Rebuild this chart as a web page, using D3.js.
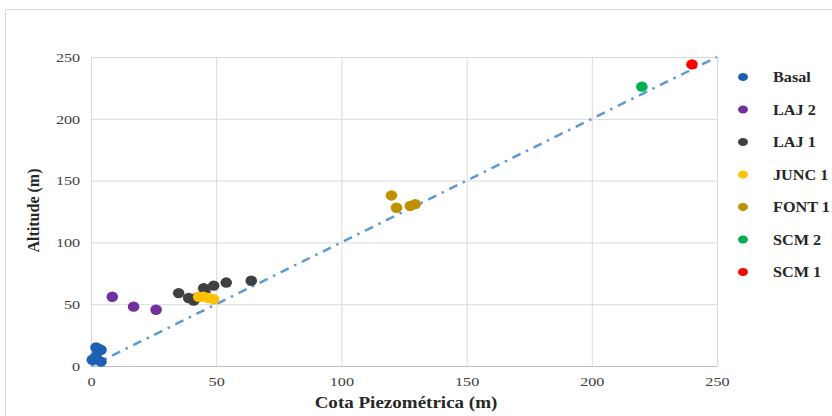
<!DOCTYPE html>
<html>
<head>
<meta charset="utf-8">
<script src="https://cdn.jsdelivr.net/npm/d3@7"></script>
<style>
    body { margin: 0; background: #fff; }
    .tick text { font-family: "Liberation Serif", "DejaVu Serif", serif; font-size: 13.5px; fill: #404040; }
    .axisTitle { font-family: "Liberation Serif", serif; font-weight: bold; fill: #262626; }
    .legendText { font-family: "Liberation Serif", serif; font-weight: bold; font-size: 15px; fill: #262626; }
</style>
</head>
<body>
<script>
//series names, colours and points
var seriesNames = ["Basal", "LAJ 2", "LAJ 1", "JUNC 1", "FONT 1", "SCM 2", "SCM 1"];
var seriesColors = ["#1e5fb4", "#7030a0", "#404040", "#ffc000", "#bf9000", "#00b050", "#ff0000"];

var basal = [[2, 15], [4, 13], [3, 14], [1.5, 6], [4, 3.5], [0.5, 5], [2, 8]];
var laj2 = [[8.5, 56], [17, 48], [26, 45.5]];
var laj1 = [[35, 59], [39, 55], [41, 53], [42, 55], [45, 63], [45.5, 60], [49, 65], [54, 67.5], [64, 69]];
var junc1 = [[43, 56], [45, 56], [47, 55], [49, 54]];
var font1 = [[120, 138], [122, 128], [127.5, 129.5], [129.5, 131]];
var scm2 = [[220, 226]];
var scm1 = [[240, 244]];

var xTicks = [0, 50, 100, 150, 200, 250];
var yTicks = [0, 50, 100, 150, 200, 250];
var lineEnds = [[0, 0], [250, 250]];

window.onload = drawChart();

function drawChart(){
    var width = 832,
        height = 416;

    //the original picture is a little stretched sideways, so text is widened
    var stretch = 1.2;

    var svg = d3.select("body")
        .append("svg")
        .attr("width", width)
        .attr("height", height);

    //light outer frame
    svg.append("path")
        .attr("d", "M5.5," + height + "V9.5H" + width)
        .attr("fill", "none")
        .attr("stroke", "#d9d9d9")
        .attr("stroke-width", 1);

    var left = 91, right = 717, top = 57, bottom = 366;

    var x = d3.scaleLinear().domain([0, 250]).range([left, right]);
    var y = d3.scaleLinear().domain([0, 250]).range([bottom, top]);

    //gridlines
    svg.append("g")
        .selectAll("line")
        .data(xTicks)
        .enter()
        .append("line")
        .attr("x1", function(d){ return x(d) + 0.5; })
        .attr("x2", function(d){ return x(d) + 0.5; })
        .attr("y1", top)
        .attr("y2", bottom)
        .attr("stroke", "#d9d9d9");

    svg.append("g")
        .selectAll("line")
        .data(yTicks)
        .enter()
        .append("line")
        .attr("x1", left)
        .attr("x2", right)
        .attr("y1", function(d){ return y(d) + 0.5; })
        .attr("y2", function(d){ return y(d) + 0.5; })
        .attr("stroke", function(d){ return d === 0 ? "#bfbfbf" : "#d9d9d9"; });

    //axes (labels only)
    var xAxis = svg.append("g")
        .attr("transform", "translate(0," + bottom + ")")
        .call(d3.axisBottom(x).tickValues(xTicks).tickSize(0).tickPadding(10));
    xAxis.select(".domain").remove();
    xAxis.selectAll(".tick text").attr("transform", "scale(" + stretch + ",1)");

    var yAxis = svg.append("g")
        .attr("transform", "translate(" + left + ",0)")
        .call(d3.axisLeft(y).tickValues(yTicks).tickSize(0).tickPadding(9));
    yAxis.select(".domain").remove();
    yAxis.selectAll(".tick text").attr("transform", "scale(" + stretch + ",1)");

    //1:1 trend line
    svg.append("path")
        .datum(lineEnds)
        .attr("d", d3.line().x(function(d){ return x(d[0]); }).y(function(d){ return y(d[1]); }))
        .attr("fill", "none")
        .attr("stroke", "#5b9bd5")
        .attr("stroke-width", 2.5)
        .attr("stroke-dasharray", "9,6,2.5,6");

    //points
    var allSeries = [basal, laj2, laj1, junc1, font1, scm2, scm1];
    allSeries.forEach(function(pts, i){
        svg.append("g")
            .selectAll("ellipse")
            .data(pts)
            .enter()
            .append("ellipse")
            .attr("cx", function(d){ return x(d[0]); })
            .attr("cy", function(d){ return y(d[1]); })
            .attr("rx", 5.8)
            .attr("ry", 5.2)
            .attr("fill", seriesColors[i]);
    });

    //axis titles
    svg.append("text")
        .attr("class", "axisTitle")
        .attr("transform", "translate(" + ((left + right) / 2 + 2) + ",408) scale(1.12,1)")
        .attr("text-anchor", "middle")
        .attr("font-size", "17px")
        .text("Cota Piezométrica (m)");

    svg.append("text")
        .attr("class", "axisTitle")
        .attr("transform", "translate(39," + ((top + bottom) / 2 - 1) + ") rotate(-90)")
        .attr("text-anchor", "middle")
        .attr("font-size", "16px")
        .text("Altitude (m)");

    //legend
    var legend = svg.append("g")
        .selectAll("g")
        .data(seriesNames)
        .enter()
        .append("g")
        .attr("transform", function(d, i){ return "translate(743," + (77 + i * 32.5) + ")"; });

    legend.append("ellipse")
        .attr("rx", 5)
        .attr("ry", 4)
        .attr("fill", function(d, i){ return seriesColors[i]; });

    legend.append("text")
        .attr("class", "legendText")
        .attr("transform", "translate(30,0) scale(1.08,1)")
        .attr("dy", "0.35em")
        .text(function(d){ return d; });
}
</script>
</body>
</html>
